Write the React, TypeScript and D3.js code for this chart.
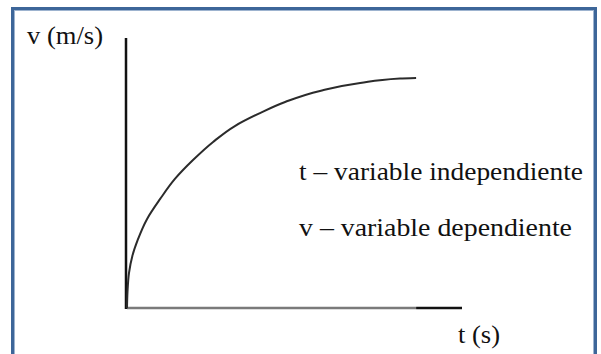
import * as d3 from "d3";
import React, { useRef, useEffect } from "react";

const W = 601;
const H = 354;

// curve samples (t in s, v in m/s, arbitrary units)
const tValues = [0, 0.015, 0.06, 0.16, 0.32, 0.6, 0.99, 1.43, 1.97, 2.57, 3.22, 3.97, 4.72, 5.76, 6.96, 8.15, 8.63];
const vValues = [0, 0.6, 1.3, 1.93, 2.52, 3.3, 4.04, 4.78, 5.48, 6.15, 6.74, 7.22, 7.63, 8.04, 8.33, 8.5, 8.52];

const yLabel = "v (m/s)";
const xLabel = "t (s)";
const notes = ["t – variable independiente", "v – variable dependiente"];

const tMax = 10;
const vMax = 10;

const font = "'Liberation Serif', 'Times New Roman', Tinos, serif";

function App() {
  const ref = useRef<SVGSVGElement>(null);

  const x = d3.scaleLinear().domain([0, tMax]).range([127, 462]);
  const y = d3.scaleLinear().domain([0, vMax]).range([308, 38]);

  useEffect(() => {
    const svg = d3.select(ref.current);
    svg.selectAll("*").remove();

    // frame
    svg
      .append("rect")
      .attr("x", 12.5)
      .attr("y", 8.5)
      .attr("width", 583)
      .attr("height", 360)
      .attr("fill", "white")
      .attr("stroke", "#3d6699")
      .attr("stroke-width", 3);
    svg
      .append("rect")
      .attr("x", 14.5)
      .attr("y", 10.5)
      .attr("width", 579)
      .attr("height", 360)
      .attr("fill", "none")
      .attr("stroke", "#9db3cf")
      .attr("stroke-width", 1);

    // x axis (grey part then black end)
    const xEnd = x(tValues[tValues.length - 1]);
    svg
      .append("line")
      .attr("x1", x(0))
      .attr("x2", xEnd)
      .attr("y1", y(0))
      .attr("y2", y(0))
      .attr("stroke", "#7a7a7a")
      .attr("stroke-width", 2.5);
    svg
      .append("line")
      .attr("x1", xEnd)
      .attr("x2", x(tMax))
      .attr("y1", y(0))
      .attr("y2", y(0))
      .attr("stroke", "#111")
      .attr("stroke-width", 2.5);

    // y axis
    svg
      .append("line")
      .attr("x1", x(0) - 1)
      .attr("x2", x(0) - 1)
      .attr("y1", y(vMax))
      .attr("y2", y(0) + 1)
      .attr("stroke", "#111")
      .attr("stroke-width", 2.5);

    // curve (monotone in v so the vertical start stays smooth)
    const pts = tValues.map((t, i) => [t, vValues[i]] as [number, number]);
    const line = d3
      .line<[number, number]>()
      .x((d) => x(d[0]))
      .y((d) => y(d[1]))
      .curve(d3.curveMonotoneY);
    svg
      .append("path")
      .attr("d", line(pts))
      .attr("fill", "none")
      .attr("stroke", "#2b2b2b")
      .attr("stroke-width", 2);

    // labels
    const txt = (s: string, px: number, py: number, len: number) =>
      svg
        .append("text")
        .attr("x", px)
        .attr("y", py)
        .style("font-family", font)
        .attr("font-size", 25)
        .attr("fill", "#111")
        .attr("textLength", len)
        .attr("lengthAdjust", "spacingAndGlyphs")
        .text(s);

    txt(yLabel, 27, 44, 76);
    txt(xLabel, 458, 343, 42);
    txt(notes[0], 299, 180, 284);
    txt(notes[1], 299, 236, 273);
  }, []);

  return (
    <svg
      ref={ref}
      width={W}
      height={H}
      style={{ position: "absolute", left: 0, top: 0, background: "white" }}
    ></svg>
  );
}

export default App;
